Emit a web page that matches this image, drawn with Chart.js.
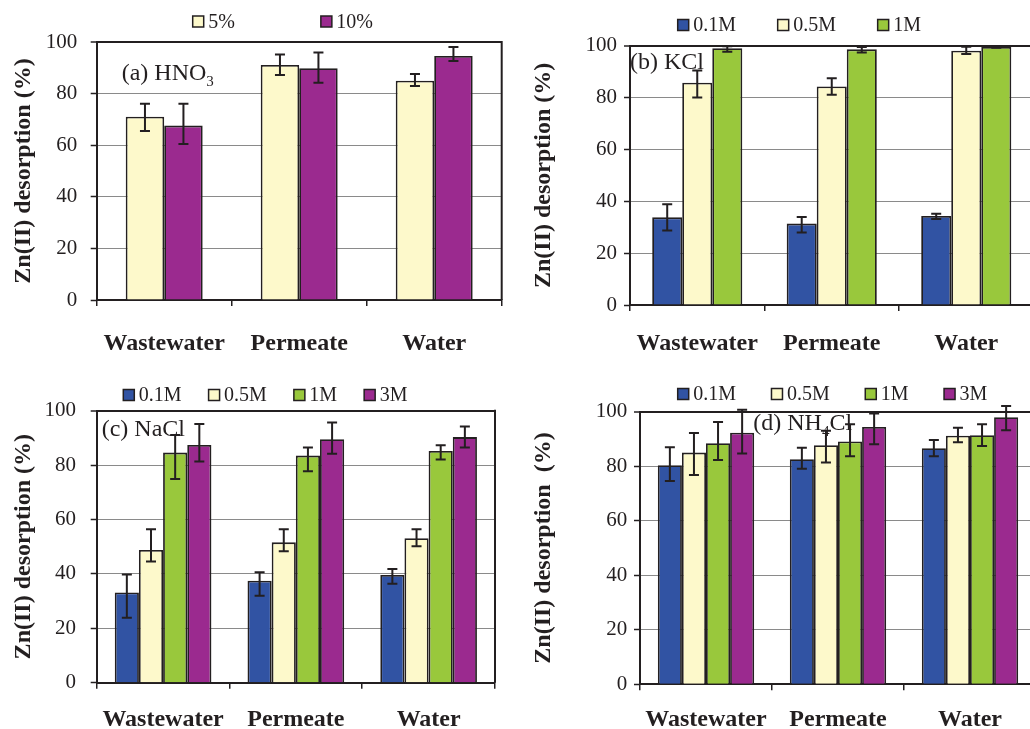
<!DOCTYPE html>
<html>
<head>
<meta charset="utf-8">
<script src="https://cdn.jsdelivr.net/npm/chart.js@4/dist/chart.umd.min.js"></script>
<style>
  html, body { margin: 0; padding: 0; background: #fff; }
  body { width: 1030px; height: 729px; overflow: hidden; position: relative; }
  canvas { position: absolute; display: block; }
</style>
</head>
<body>
<canvas id="panelA" style="left:0;top:0"></canvas>
<canvas id="panelB" style="left:515px;top:0"></canvas>
<canvas id="panelC" style="left:0;top:365px"></canvas>
<canvas id="panelD" style="left:515px;top:365px"></canvas>
<script>
// Shared categories and y-axis ticks
const categories = ['Wastewater', 'Permeate', 'Water'];
const yTickValues = [0, 20, 40, 60, 80, 100];

// (a) HNO3 eluent
const hno3Series = ['5%', '10%'];
const hno3Values = [[71.0, 91.1, 85.0], [67.6, 89.8, 94.6]];
const hno3ErrUp = [[5.1, 4.1, 2.6], [8.5, 6.1, 3.5]];
const hno3ErrDown = [[5.5, 3.9, 2.1], [7.1, 5.6, 2.0]];

// (b) KCl eluent
const kclSeries = ['0.1M', '0.5M', '1M'];
const kclValues = [[33.8, 31.4, 34.3], [85.7, 84.3, 98.1], [99.0, 98.6, 99.5]];
const kclErrUp = [[5.1, 2.5, 0.9], [4.7, 3.1, 1.5], [0.8, 0.9, 0.3]];
const kclErrDown = [[5.1, 3.4, 1.1], [5.7, 3.2, 1.3], [1.3, 1.2, 0.3]];

// (c) NaCl eluent
const naclSeries = ['0.1M', '0.5M', '1M', '3M'];
const naclValues = [[33.2, 37.5, 39.6], [48.8, 51.6, 53.1], [84.6, 83.5, 85.2], [87.4, 89.5, 90.3]];
const naclErrUp = [[6.6, 3.1, 2.2], [7.6, 4.8, 3.3], [6.5, 3.0, 2.1], [7.7, 6.2, 3.9]];
const naclErrDown = [[9.3, 5.5, 3.2], [4.2, 3.3, 2.9], [9.7, 5.8, 3.1], [6.1, 5.3, 3.8]];

// (d) NH4Cl eluent
const nh4clSeries = ['0.1M', '0.5M', '1M', '3M'];
const nh4clValues = [[80.4, 82.6, 86.6], [85.0, 87.7, 91.2], [88.4, 89.1, 91.4], [92.3, 94.4, 98.0]];
const nh4clErrUp = [[6.6, 4.2, 3.0], [7.2, 5.3, 2.9], [7.8, 6.3, 4.0], [8.4, 4.9, 4.1]];
const nh4clErrDown = [[5.8, 3.5, 2.9], [8.2, 6.3, 2.4], [6.1, 5.4, 4.0], [7.6, 6.3, 4.8]];

const ink = '#231f20';
const serif = "'Liberation Serif', 'Times New Roman', serif";
const seriesColors = {
  '5%': '#fdf9cb', '10%': '#9b2a8f',
  '0.1M': '#3153a3', '0.5M': '#fdf9cb', '1M': '#99c83c', '3M': '#9b2a8f'
};

// Error bars, right frame edge, legend row and panel caption
const panelDecor = {
  id: 'panelDecor',
  afterDatasetsDraw(chart, args, opts) {
    const ctx = chart.ctx;
    const y = chart.scales.y;
    const area = chart.chartArea;
    ctx.save();

    ctx.strokeStyle = ink;
    ctx.lineWidth = 2;
    chart.data.datasets.forEach((ds, i) => {
      chart.getDatasetMeta(i).data.forEach((bar, j) => {
        const v = ds.data[j];
        const hi = y.getPixelForValue(v + opts.up[i][j]);
        const lo = y.getPixelForValue(v - opts.down[i][j]);
        ctx.beginPath();
        ctx.moveTo(bar.x, hi); ctx.lineTo(bar.x, lo);
        ctx.moveTo(bar.x - 5, hi); ctx.lineTo(bar.x + 5, hi);
        ctx.moveTo(bar.x - 5, lo); ctx.lineTo(bar.x + 5, lo);
        ctx.stroke();
      });
    });

    ctx.beginPath();
    ctx.moveTo(area.right, area.top - 1);
    ctx.lineTo(area.right, area.bottom);
    ctx.stroke();

    const L = opts.legend;
    let lx = L.x;
    ctx.font = '20px ' + serif;
    ctx.textAlign = 'left';
    ctx.textBaseline = 'middle';
    chart.data.datasets.forEach(ds => {
      ctx.fillStyle = ds.backgroundColor;
      ctx.fillRect(lx, L.y - 5.5, 11, 11);
      ctx.lineWidth = 1.5;
      ctx.strokeStyle = ink;
      ctx.strokeRect(lx, L.y - 5.5, 11, 11);
      ctx.fillStyle = ink;
      ctx.fillText(ds.label, lx + 15.5, L.y + 1);
      lx += 15.5 + ctx.measureText(ds.label).width + L.gap;
    });

    const N = opts.note;
    ctx.textBaseline = 'alphabetic';
    ctx.fillStyle = ink;
    ctx.font = '24px ' + serif;
    let nx = N.x;
    ctx.fillText(N.text, nx, N.y);
    nx += ctx.measureText(N.text).width;
    if (N.sub) {
      ctx.font = '15px ' + serif;
      ctx.fillText(N.sub, nx, N.y + 5.5);
      nx += ctx.measureText(N.sub).width;
      ctx.font = '24px ' + serif;
    }
    if (N.tail) ctx.fillText(N.tail, nx, N.y);

    ctx.restore();
  }
};

const panels = [
  { id: 'panelA', w: 515, h: 365, area: { left: 96.7, top: 42, right: 501.7, bottom: 300 },
    series: hno3Series, values: hno3Values, up: hno3ErrUp, down: hno3ErrDown,
    cat: 0.57, yPad: 13.4, xPad: 22.9, titlePad: 9.5, yTitle: 'Zn(II) desorption (%)',
    legend: { x: 192.7, y: 21.5, gap: 86 },
    note: { x: 121.7, y: 80, text: '(a) HNO', sub: '3', tail: '' } },
  { id: 'panelB', w: 525, h: 365, area: { left: 115, top: 45.7, right: 518.5, bottom: 305 },
    series: kclSeries, values: kclValues, up: kclErrUp, down: kclErrDown,
    cat: 0.67, yPad: 7, xPad: 17.9, titlePad: 14.6, yTitle: 'Zn(II) desorption (%)',
    legend: { x: 162.7, y: 25, gap: 41.7 },
    note: { x: 115, y: 68.5, text: '(b) KCl', sub: '', tail: '' } },
  { id: 'panelC', w: 515, h: 370, area: { left: 96.7, top: 45.7, right: 495, bottom: 317.7 },
    series: naclSeries, values: naclValues, up: naclErrUp, down: naclErrDown,
    cat: 0.728, yPad: 14.7, xPad: 16.9, titlePad: 9.5, yTitle: 'Zn(II) desorption (%)',
    legend: { x: 123.3, y: 30, gap: 27 },
    note: { x: 101.7, y: 71, text: '(c) NaCl', sub: '', tail: '' } },
  { id: 'panelD', w: 525, h: 370, area: { left: 125, top: 46.7, right: 521, bottom: 319.3 },
    series: nh4clSeries, values: nh4clValues, up: nh4clErrUp, down: nh4clErrDown,
    cat: 0.73, yPad: 6.7, xPad: 15.3, titlePad: 14.6, yTitle: 'Zn(II) desorption  (%)',
    legend: { x: 162.7, y: 29, gap: 35.5 },
    note: { x: 238.3, y: 65, text: '(d) NH', sub: '4', tail: 'Cl' } }
];

function makePanel(p) {
  const canvas = document.getElementById(p.id);
  canvas.width = p.w;
  canvas.height = p.h;
  return new Chart(canvas, {
    type: 'bar',
    data: {
      labels: categories,
      datasets: p.series.map((s, i) => ({
        label: s,
        data: p.values[i],
        backgroundColor: seriesColors[s],
        borderColor: ink,
        borderWidth: 1.8,
        categoryPercentage: p.cat,
        barPercentage: 1
      }))
    },
    options: {
      responsive: false,
      animation: false,
      devicePixelRatio: 1,
      layout: { padding: { left: 0, top: p.area.top, right: p.w - p.area.right, bottom: 0 } },
      plugins: {
        legend: { display: false },
        tooltip: { enabled: false },
        panelDecor: { up: p.up, down: p.down, legend: p.legend, note: p.note }
      },
      scales: {
        x: {
          grid: { display: true, drawOnChartArea: false, drawTicks: true, tickLength: 6,
                  tickColor: ink, tickWidth: 1.5, lineWidth: 1.5, offset: true },
          border: { color: ink, width: 2 },
          ticks: { font: { family: serif, size: 24, weight: 'bold' }, color: ink,
                   padding: p.xPad, maxRotation: 0, autoSkip: false },
          afterFit(s) { s.height = p.h - p.area.bottom; }
        },
        y: {
          min: 0, max: 100,
          afterBuildTicks(s) { s.ticks = yTickValues.map(v => ({ value: v })); },
          grid: {
            color: c => (c.tick && c.tick.value === 100) ? ink : '#8a8a8a',
            lineWidth: c => (c.tick && c.tick.value === 100) ? 2 : 1,
            tickLength: 6, tickColor: ink, tickWidth: 1.5
          },
          border: { color: ink, width: 2 },
          ticks: { font: { family: serif, size: 21 }, color: ink, padding: p.yPad },
          title: { display: true, text: p.yTitle, color: ink,
                   font: { family: serif, size: 24, weight: 'bold' },
                   padding: { top: p.titlePad, bottom: 0 } },
          afterFit(s) { s.width = p.area.left; }
        }
      }
    },
    plugins: [panelDecor]
  });
}

panels.forEach(makePanel);
</script>
</body>
</html>
